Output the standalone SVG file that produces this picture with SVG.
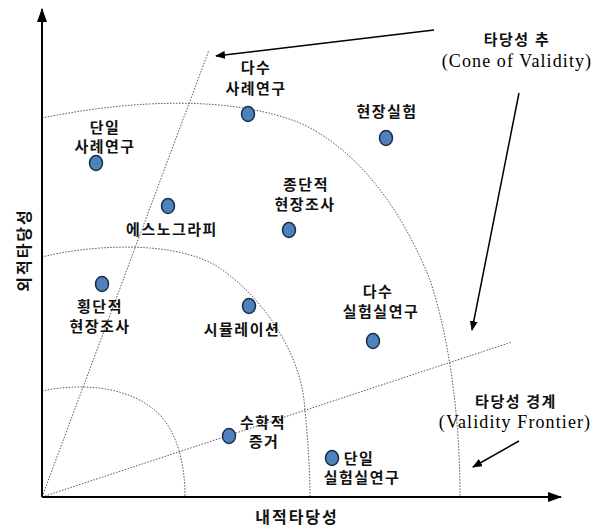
<svg xmlns="http://www.w3.org/2000/svg" width="600" height="527" viewBox="0 0 600 527">
<style>
.ko{font-family:"Liberation Serif","Noto Sans CJK KR",serif;font-size:15px;font-weight:bold;fill:#111;text-anchor:middle;letter-spacing:1.5px}
.en{font-family:"Liberation Serif","Noto Sans CJK KR",serif;font-size:18px;fill:#000;text-anchor:middle;letter-spacing:1.1px}
.ax{font-family:"Liberation Serif","Noto Sans CJK KR",serif;font-size:16px;font-weight:bold;fill:#111;text-anchor:middle;letter-spacing:2px}
.dot{fill:#4F81BD;stroke:#1c2f4a;stroke-width:1.5}
.dotted{fill:none;stroke:#555;stroke-width:1;stroke-dasharray:1.5 1.5}
.arr{fill:none;stroke:#000;stroke-width:1.5}
.axis{fill:none;stroke:#000;stroke-width:2}
</style>
<defs>
<marker id="ah" markerWidth="10" markerHeight="8" refX="9" refY="4" orient="auto" markerUnits="userSpaceOnUse">
<path d="M0,0 L10,4 L0,8 Z" fill="#000"/>
</marker>
<marker id="ax" markerWidth="14" markerHeight="10" refX="13" refY="5" orient="auto" markerUnits="userSpaceOnUse">
<path d="M0,0 L14,5 L0,10 Z" fill="#000"/>
</marker>
</defs>
<rect width="600" height="527" fill="#fff"/>
<g id="guides">
<path class="dotted" d="M42,118 C130,100 230,95 300,123 C355,148 400,205 430,280 C450,340 460,420 460,497"/>
<path class="dotted" d="M42,257 C90,245 170,240 215,265 C262,295 298,350 304,400 C308,440 310,470 310,497"/>
<path class="dotted" d="M42,391 C80,383 130,385 160,415 C178,435 185,465 185,497"/>
<line class="dotted" x1="42" y1="497" x2="209" y2="50"/>
<line class="dotted" x1="42" y1="497" x2="512" y2="342"/>
</g>
<g id="axes">
<line class="axis" x1="42" y1="497" x2="42" y2="9" marker-end="url(#ax)"/>
<line class="axis" x1="42" y1="497" x2="561" y2="497" marker-end="url(#ax)"/>
<text class="ax" x="297" y="523">내적타당성</text>
<text class="ax" transform="translate(30,250) rotate(-90)">외적타당성</text>
</g>
<g id="connectors">
<line class="arr" x1="434" y1="30" x2="216" y2="56" marker-end="url(#ah)"/>
<line class="arr" x1="519" y1="93" x2="472" y2="330" marker-end="url(#ah)"/>
<line class="arr" x1="519" y1="441" x2="473" y2="467" marker-end="url(#ah)"/>
</g>
<g id="cone-label">
<text class="ko" x="517" y="45">타당성 추</text>
<text class="en" x="517" y="67">(Cone of Validity)</text>
</g>
<g id="frontier-label">
<text class="ko" x="516" y="407">타당성 경계</text>
<text class="en" x="515" y="428">(Validity Frontier)</text>
</g>
<g id="multi-case">
<ellipse class="dot" cx="248" cy="114" rx="6.5" ry="7.5"/>
<text class="ko" x="256" y="73">다수</text>
<text class="ko" x="256" y="94">사례연구</text>
</g>
<g id="single-case">
<ellipse class="dot" cx="96" cy="163" rx="6.5" ry="7.5"/>
<text class="ko" x="105" y="133">단일</text>
<text class="ko" x="105" y="152">사례연구</text>
</g>
<g id="ethnography">
<ellipse class="dot" cx="168" cy="206" rx="6.5" ry="7.5"/>
<text class="ko" x="172" y="235">에스노그라피</text>
</g>
<g id="longitudinal">
<ellipse class="dot" cx="289" cy="230" rx="6.5" ry="7.5"/>
<text class="ko" x="306" y="190">종단적</text>
<text class="ko" x="305" y="210">현장조사</text>
</g>
<g id="field-experiment">
<ellipse class="dot" cx="386" cy="138" rx="6.5" ry="7.5"/>
<text class="ko" x="387" y="117">현장실험</text>
</g>
<g id="cross-sectional">
<ellipse class="dot" cx="102" cy="284" rx="6.5" ry="7.5"/>
<text class="ko" x="100" y="312">횡단적</text>
<text class="ko" x="100" y="332">현장조사</text>
</g>
<g id="simulation">
<ellipse class="dot" cx="249" cy="306" rx="6.5" ry="7.5"/>
<text class="ko" x="242" y="335">시뮬레이션</text>
</g>
<g id="math-proof">
<ellipse class="dot" cx="229" cy="436" rx="6.5" ry="7.5"/>
<text class="ko" x="263" y="428">수학적</text>
<text class="ko" x="264" y="447">증거</text>
</g>
<g id="multi-lab">
<ellipse class="dot" cx="373" cy="341" rx="6.5" ry="7.5"/>
<text class="ko" x="378" y="297">다수</text>
<text class="ko" x="381" y="317">실험실연구</text>
</g>
<g id="single-lab">
<ellipse class="dot" cx="332" cy="458" rx="6.5" ry="7.5"/>
<text class="ko" x="359" y="464">단일</text>
<text class="ko" x="362" y="483">실험실연구</text>
</g>
</svg>
